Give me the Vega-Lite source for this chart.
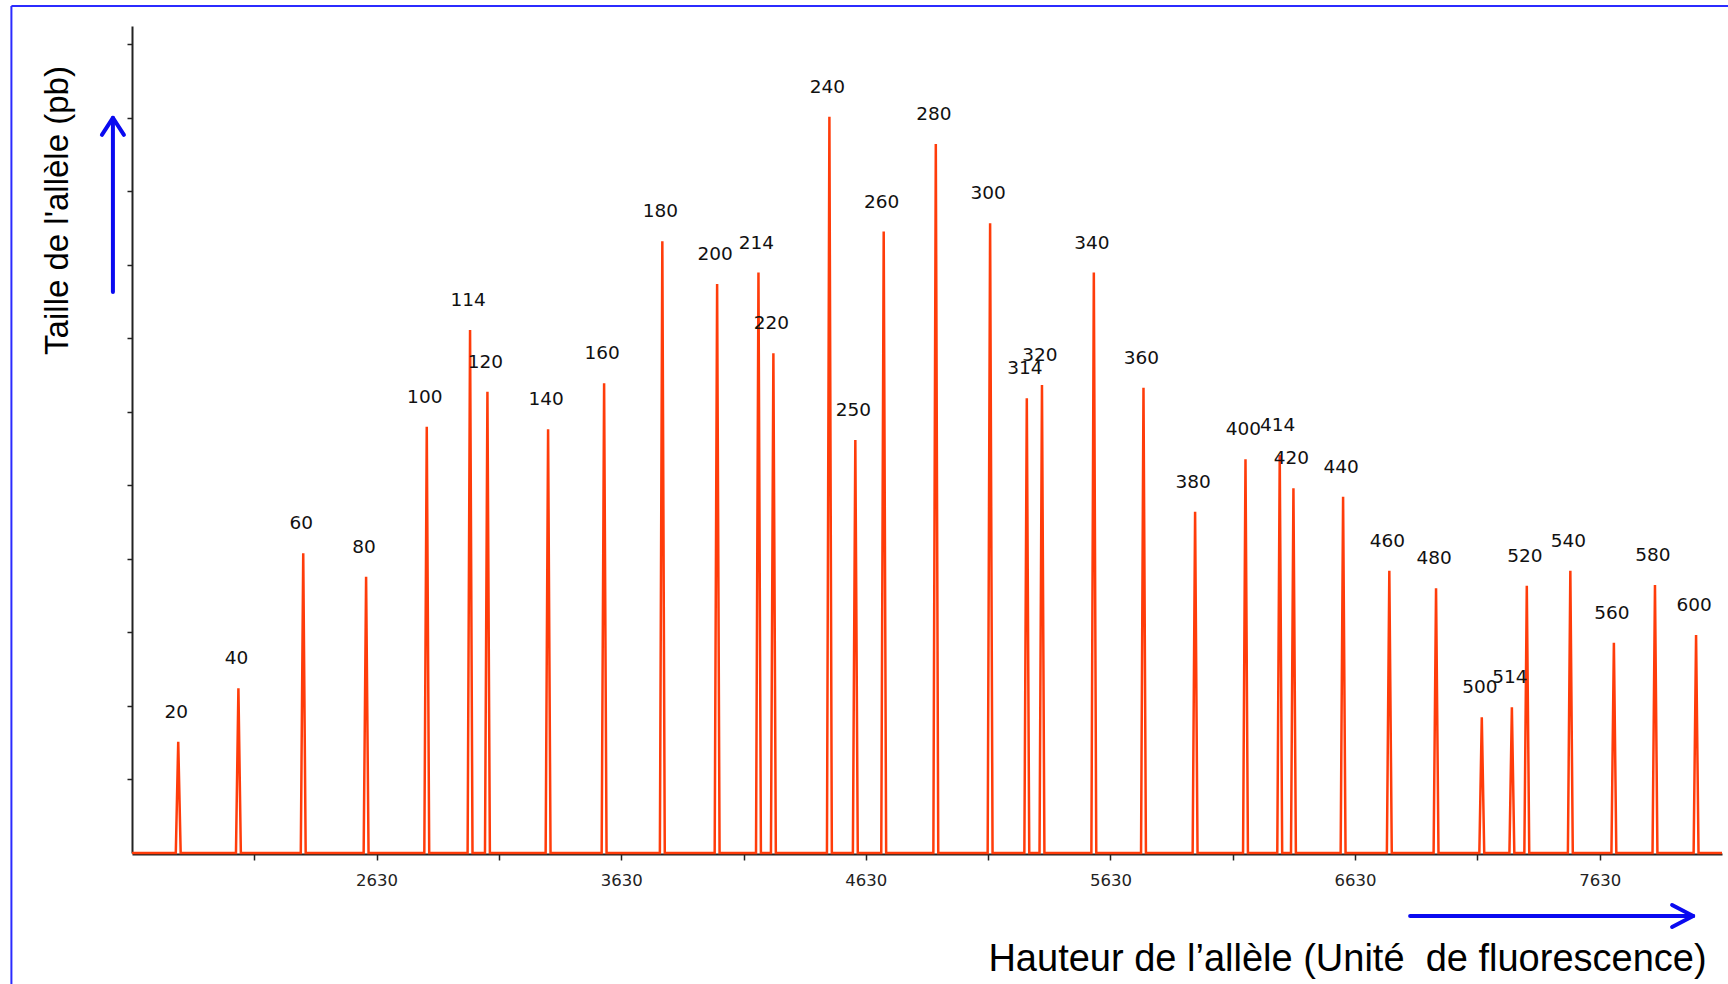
{
  "$schema": "https://vega.github.io/schema/vega-lite/v6.json",
  "width": 1590,
  "height": 827,
  "autosize": {"type": "none"},
  "padding": {"left": 132, "top": 26, "right": 6, "bottom": 131},
  "background": "white",
  "config": {"view": {"stroke": null}},
  "datasets": {
    "trace": [
      {"x": 1630, "y": 0},
      {"x": 1809, "y": 0}, {"x": 1819, "y": 1514}, {"x": 1829, "y": 0},
      {"x": 2055, "y": 0}, {"x": 2065, "y": 2241}, {"x": 2075, "y": 0},
      {"x": 2320, "y": 0}, {"x": 2330, "y": 4077}, {"x": 2340, "y": 0},
      {"x": 2577, "y": 0}, {"x": 2587, "y": 3759}, {"x": 2597, "y": 0},
      {"x": 2825, "y": 0}, {"x": 2835, "y": 5800}, {"x": 2845, "y": 0},
      {"x": 3002, "y": 0}, {"x": 3012, "y": 7115}, {"x": 3022, "y": 0},
      {"x": 3073, "y": 0}, {"x": 3083, "y": 6276}, {"x": 3093, "y": 0},
      {"x": 3321, "y": 0}, {"x": 3331, "y": 5764}, {"x": 3341, "y": 0},
      {"x": 3550, "y": 0}, {"x": 3560, "y": 6390}, {"x": 3570, "y": 0},
      {"x": 3788, "y": 0}, {"x": 3798, "y": 8322}, {"x": 3808, "y": 0},
      {"x": 4012, "y": 0}, {"x": 4022, "y": 7741}, {"x": 4032, "y": 0},
      {"x": 4181, "y": 0}, {"x": 4191, "y": 7895}, {"x": 4201, "y": 0},
      {"x": 4242, "y": 0}, {"x": 4252, "y": 6798}, {"x": 4262, "y": 0},
      {"x": 4471, "y": 0}, {"x": 4481, "y": 10017}, {"x": 4491, "y": 0},
      {"x": 4577, "y": 0}, {"x": 4587, "y": 5619}, {"x": 4597, "y": 0},
      {"x": 4693, "y": 0}, {"x": 4703, "y": 8453}, {"x": 4713, "y": 0},
      {"x": 4906, "y": 0}, {"x": 4916, "y": 9646}, {"x": 4926, "y": 0},
      {"x": 5128, "y": 0}, {"x": 5138, "y": 8567}, {"x": 5148, "y": 0},
      {"x": 5278, "y": 0}, {"x": 5288, "y": 6186}, {"x": 5298, "y": 0},
      {"x": 5340, "y": 0}, {"x": 5350, "y": 6367}, {"x": 5360, "y": 0},
      {"x": 5552, "y": 0}, {"x": 5562, "y": 7895}, {"x": 5572, "y": 0},
      {"x": 5755, "y": 0}, {"x": 5765, "y": 6330}, {"x": 5775, "y": 0},
      {"x": 5966, "y": 0}, {"x": 5976, "y": 4643}, {"x": 5986, "y": 0},
      {"x": 6172, "y": 0}, {"x": 6182, "y": 5356}, {"x": 6192, "y": 0},
      {"x": 6312, "y": 0}, {"x": 6322, "y": 5415}, {"x": 6332, "y": 0},
      {"x": 6368, "y": 0}, {"x": 6378, "y": 4962}, {"x": 6388, "y": 0},
      {"x": 6571, "y": 0}, {"x": 6581, "y": 4847}, {"x": 6591, "y": 0},
      {"x": 6760, "y": 0}, {"x": 6770, "y": 3841}, {"x": 6780, "y": 0},
      {"x": 6951, "y": 0}, {"x": 6961, "y": 3601}, {"x": 6971, "y": 0},
      {"x": 7138, "y": 0}, {"x": 7148, "y": 1846}, {"x": 7158, "y": 0},
      {"x": 7261, "y": 0}, {"x": 7271, "y": 1982}, {"x": 7281, "y": 0},
      {"x": 7322, "y": 0}, {"x": 7332, "y": 3637}, {"x": 7342, "y": 0},
      {"x": 7500, "y": 0}, {"x": 7510, "y": 3841}, {"x": 7520, "y": 0},
      {"x": 7678, "y": 0}, {"x": 7688, "y": 2861}, {"x": 7698, "y": 0},
      {"x": 7846, "y": 0}, {"x": 7856, "y": 3646}, {"x": 7866, "y": 0},
      {"x": 8014, "y": 0}, {"x": 8024, "y": 2966}, {"x": 8034, "y": 0},
      {"x": 8130, "y": 0}
    ],
    "peaks": [
      {"label": "20", "x": 1819, "y": 1514},
      {"label": "40", "x": 2065, "y": 2241},
      {"label": "60", "x": 2330, "y": 4077},
      {"label": "80", "x": 2587, "y": 3759},
      {"label": "100", "x": 2835, "y": 5800},
      {"label": "114", "x": 3012, "y": 7115},
      {"label": "120", "x": 3083, "y": 6276},
      {"label": "140", "x": 3331, "y": 5764},
      {"label": "160", "x": 3560, "y": 6390},
      {"label": "180", "x": 3798, "y": 8322},
      {"label": "200", "x": 4022, "y": 7741},
      {"label": "214", "x": 4191, "y": 7895},
      {"label": "220", "x": 4252, "y": 6798},
      {"label": "240", "x": 4481, "y": 10017},
      {"label": "250", "x": 4587, "y": 5619},
      {"label": "260", "x": 4703, "y": 8453},
      {"label": "280", "x": 4916, "y": 9646},
      {"label": "300", "x": 5138, "y": 8567},
      {"label": "314", "x": 5288, "y": 6186},
      {"label": "320", "x": 5350, "y": 6367},
      {"label": "340", "x": 5562, "y": 7895},
      {"label": "360", "x": 5765, "y": 6330},
      {"label": "380", "x": 5976, "y": 4643},
      {"label": "400", "x": 6182, "y": 5356},
      {"label": "414", "x": 6322, "y": 5415},
      {"label": "420", "x": 6378, "y": 4962},
      {"label": "440", "x": 6581, "y": 4847},
      {"label": "460", "x": 6770, "y": 3841},
      {"label": "480", "x": 6961, "y": 3601},
      {"label": "500", "x": 7148, "y": 1846},
      {"label": "514", "x": 7271, "y": 1982},
      {"label": "520", "x": 7332, "y": 3637},
      {"label": "540", "x": 7510, "y": 3841},
      {"label": "560", "x": 7688, "y": 2861},
      {"label": "580", "x": 7856, "y": 3646},
      {"label": "600", "x": 8024, "y": 2966}
    ],
    "frame": [
      {"x": 1137, "y": 11523, "x2": 8170, "y2": 11523},
      {"x": 1137, "y": 11523, "x2": 1137, "y2": -1800}
    ],
    "arrows": [
      {"x": 1552, "y": 7632, "x2": 1552, "y2": 10000},
      {"x": 1507, "y": 9768, "x2": 1552, "y2": 10000},
      {"x": 1597, "y": 9768, "x2": 1552, "y2": 10000},
      {"x": 6855, "y": -857, "x2": 8012, "y2": -857},
      {"x": 7926, "y": -707, "x2": 8012, "y2": -857},
      {"x": 7926, "y": -1007, "x2": 8012, "y2": -857}
    ]
  },
  "encoding": {
    "x": {
      "field": "x",
      "type": "quantitative",
      "scale": {"domain": [1630, 8130], "nice": false, "zero": false},
      "axis": {
        "title": "Hauteur de l’allèle (Unité\u00a0 de fluorescence)",
        "values": [2130, 2630, 3130, 3630, 4130, 4630, 5130, 5630, 6130, 6630, 7130, 7630],
        "format": "d",
        "labelExpr": "(datum.value - 2630) % 1000 == 0 ? datum.label : ''",
        "grid": false,
        "offset": 1,
        "domainColor": "#222222",
        "domainWidth": 2,
        "tickColor": "#222222",
        "tickSize": 6,
        "tickWidth": 1.5,
        "labelFont": "DejaVu Sans",
        "labelFontSize": 16.5,
        "labelColor": "#222222",
        "labelBaseline": "middle",
        "labelPadding": 20,
        "titleFont": "Liberation Sans",
        "titleFontSize": 38,
        "titleFontWeight": "normal",
        "titleColor": "#000000",
        "titleX": 1215,
        "titleY": 116,
        "titleAlign": "center",
        "titleBaseline": "alphabetic"
      }
    },
    "y": {
      "field": "y",
      "type": "quantitative",
      "scale": {"domain": [0, 11250], "nice": false, "zero": true},
      "axis": {
        "title": "Taille de l'allèle (pb)",
        "values": [1000, 2000, 3000, 4000, 5000, 6000, 7000, 8000, 9000, 10000, 11000],
        "labels": false,
        "grid": false,
        "domainColor": "#222222",
        "domainWidth": 2,
        "tickColor": "#222222",
        "tickSize": 5,
        "tickWidth": 1.5,
        "titleFont": "Liberation Sans",
        "titleFontSize": 33,
        "titleFontWeight": "normal",
        "titleColor": "#000000",
        "titleAngle": 270,
        "titleX": -65,
        "titleY": 184,
        "titleAlign": "center",
        "titleBaseline": "alphabetic"
      }
    }
  },
  "layer": [
    {
      "data": {"name": "frame"},
      "mark": {"type": "rule", "color": "#2b2bff", "strokeWidth": 2},
      "encoding": {"x2": {"field": "x2"}, "y2": {"field": "y2"}}
    },
    {
      "data": {"name": "arrows"},
      "mark": {"type": "rule", "color": "#0a0af0", "strokeWidth": 4, "strokeCap": "round"},
      "encoding": {"x2": {"field": "x2"}, "y2": {"field": "y2"}}
    },
    {
      "data": {"name": "trace"},
      "mark": {"type": "line", "color": "#ff3c0a", "strokeWidth": 2.5, "interpolate": "linear"},
      "encoding": {}
    },
    {
      "data": {"name": "peaks"},
      "mark": {"type": "text", "dy": -30, "dx": -2, "align": "center", "baseline": "middle", "font": "DejaVu Sans", "fontSize": 18.5, "fill": "#111111"},
      "encoding": {"text": {"field": "label", "type": "nominal"}}
    }
  ]
}
